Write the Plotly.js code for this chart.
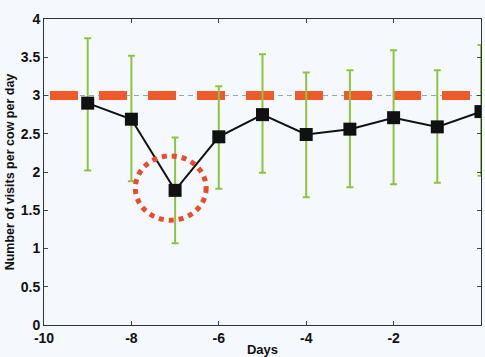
<!DOCTYPE html>
<html><head><meta charset="utf-8">
<script src="https://cdn.plot.ly/plotly-3.0.1.min.js"></script>
<style>html,body{margin:0;padding:0;background:#f5f8fc;}</style>
</head><body><div id="chart" style="width:485px;height:357px;"></div>
<script>
const days = [-9, -8, -7, -6, -5, -4, -3, -2, -1, 0];
const visits = [2.90, 2.69, 1.76, 2.46, 2.75, 2.49, 2.56, 2.71, 2.59, 2.79];
const errUpper = [3.75, 3.52, 2.45, 3.12, 3.54, 3.30, 3.33, 3.59, 3.33, 3.66];
const errLower = [2.02, 1.88, 1.07, 1.78, 1.99, 1.67, 1.80, 1.84, 1.86, 1.95];
const refX = [-10, 0];
const refY = [3, 3];
const xTicks = [-10, -8, -6, -4, -2, 0];
const yTicks = [0, 0.5, 1, 1.5, 2, 2.5, 3, 3.5, 4];

const plus = visits.map((v, i) => errUpper[i] - v);
const minus = visits.map((v, i) => v - errLower[i]);

const traces = [
  {x: refX, y: refY, mode: 'lines', line: {color: '#9aa6b8', width: 1, dash: '5px,4px'}, hoverinfo: 'skip', showlegend: false},
  {x: refX, y: refY, mode: 'lines', line: {color: '#ee5a2a', width: 9, dash: '0px,6px,28px,15px'}, hoverinfo: 'skip', showlegend: false},
  {x: days, y: visits, mode: 'lines+markers', showlegend: false,
   line: {color: '#111111', width: 2},
   marker: {symbol: 'square', size: 13, color: '#111111'},
   error_y: {type: 'data', symmetric: false, array: plus, arrayminus: minus, color: '#8cc63e', thickness: 2, width: 3.5}}
];

const layout = {
  width: 485, height: 357,
  margin: {l: 44, r: 4, t: 19, b: 32},
  paper_bgcolor: '#f5f8fc', plot_bgcolor: '#f5f8fc',
  font: {family: 'Liberation Sans, Arial, sans-serif', color: '#111'},
  xaxis: {range: [-10, 0], tickvals: xTicks, ticktext: xTicks.map(String), ticks: 'inside', ticklen: 4,
    showline: true, mirror: 'ticks', linecolor: '#333', linewidth: 1, showgrid: false, zeroline: false,
    tickfont: {size: 14, family: 'Liberation Sans, Arial', weight: 'bold'},
    title: {text: '<b>Days</b>', font: {size: 13}, standoff: 1}},
  yaxis: {range: [0, 4], tickvals: yTicks, ticktext: yTicks.map(String), ticks: 'inside', ticklen: 4,
    showline: true, mirror: 'ticks', linecolor: '#333', linewidth: 1, showgrid: false, zeroline: false,
    tickfont: {size: 14, family: 'Liberation Sans, Arial', weight: 'bold'},
    title: {text: '<b>Number of visits per cow per day</b>', font: {size: 12.5}, standoff: 3}},
  shapes: [{type: 'circle', xref: 'x', yref: 'y', x0: -7.91, x1: -6.29, y0: 1.37, y1: 2.21,
    line: {color: '#ee4a2a', width: 5, dash: '5px,5px'}}]
};
Plotly.newPlot('chart', traces, layout, {displayModeBar: false, staticPlot: true});
</script></body></html>
